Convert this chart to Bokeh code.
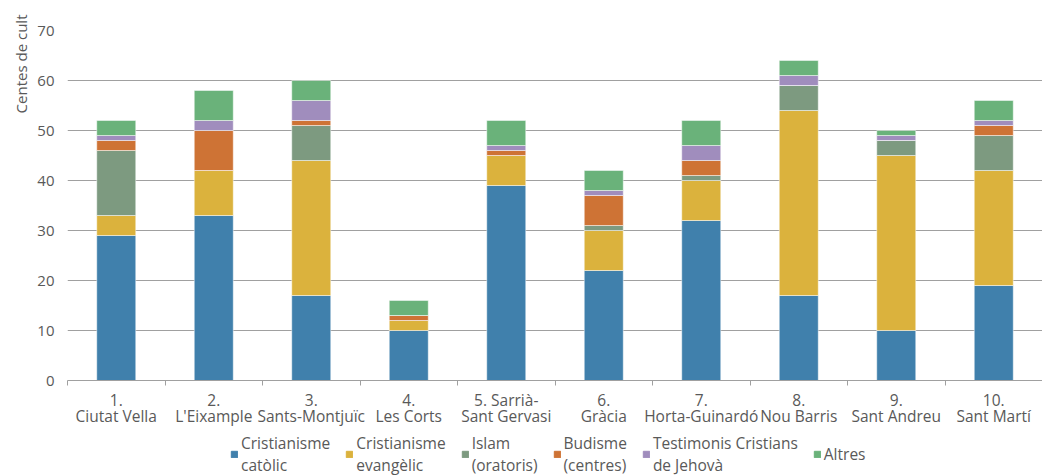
import numpy as np
from bokeh.plotting import figure
from bokeh.layouts import column
from bokeh.models import FixedTicker, Legend, LegendItem, Title, Range1d, ColumnDataSource
from bokeh.embed import file_html
from bokeh.resources import INLINE

districts = ["1.\nCiutat Vella", "2.\nL'Eixample", "3.\nSants-Montjuïc", "4.\nLes Corts",
             "5. Sarrià-\nSant Gervasi", "6.\nGràcia", "7.\nHorta-Guinardó", "8.\nNou Barris",
             "9.\nSant Andreu", "10.\nSant Martí"]
catolic = [29, 33, 17, 10, 39, 22, 32, 17, 10, 19]
evangelic = [4, 9, 27, 2, 6, 8, 8, 37, 35, 23]
islam = [13, 0, 7, 0, 0, 1, 1, 5, 3, 7]
budisme = [2, 8, 1, 1, 1, 6, 3, 0, 0, 2]
testimonis = [1, 2, 4, 0, 1, 1, 3, 2, 1, 1]
altres = [3, 6, 4, 3, 5, 4, 5, 3, 1, 4]
series_names = ["Cristianisme\ncatòlic", "Cristianisme\nevangèlic", "Islam\n(oratoris)",
                "Budisme\n(centres)", "Testimonis Cristians\nde Jehovà", "Altres"]
colors = ["#4080AC", "#DBB23D", "#7D9A80", "#CE7335", "#A08DBD", "#6AB27A"]
y_ticks = [0, 10, 20, 30, 40, 50, 60, 70]
y_title = "Centes de cult"

FONT = "Open Sans"
TXT = "#595959"
GRID = "#a0a0a0"

xs = list(range(1, len(districts) + 1))
keys = ["catolic", "evangelic", "islam", "budisme", "testimonis", "altres"]
src = ColumnDataSource(dict(x=xs, catolic=catolic, evangelic=evangelic, islam=islam,
                            budisme=budisme, testimonis=testimonis, altres=altres))

# ---- main chart ----
p = figure(width=1042, height=430, output_backend="svg", toolbar_location=None,
           x_range=Range1d(0.5, len(xs) + 0.5), y_range=Range1d(0, 70),
           min_border_left=67, min_border_top=30, min_border_right=0,
           min_border_bottom=46)
p.outline_line_color = None
p.vbar_stack(keys, x="x", width=0.4, source=src, color=colors,
             line_color="white", line_alpha=0.6, line_width=0.8)

p.xaxis.ticker = FixedTicker(ticks=xs, minor_ticks=[x - 0.5 for x in xs] + [xs[-1] + 0.5])
p.xaxis.major_label_overrides = {x: d for x, d in zip(xs, districts)}
p.xaxis.major_tick_line_color = None
p.xaxis.major_tick_out = 0
p.xaxis.major_tick_in = 0
p.xaxis.minor_tick_line_color = GRID
p.xaxis.minor_tick_out = 5
p.xaxis.minor_tick_in = 0
p.xaxis.axis_line_color = GRID
p.xaxis.major_label_text_font = FONT
p.xaxis.major_label_text_font_size = "15.5px"
p.xaxis.major_label_text_color = TXT
p.xaxis.major_label_text_line_height = 0.76
p.xaxis.major_label_standoff = 3
p.xgrid.grid_line_color = None

p.yaxis.ticker = FixedTicker(ticks=y_ticks)
p.yaxis.axis_line_color = None
p.yaxis.major_tick_line_color = None
p.yaxis.major_tick_out = 0
p.yaxis.major_tick_in = 0
p.yaxis.minor_tick_line_color = None
p.yaxis.major_label_text_font = FONT
p.yaxis.major_label_text_font_size = "15px"
p.yaxis.major_label_text_color = TXT
p.yaxis.major_label_standoff = 13
p.ygrid.grid_line_color = GRID

p.add_layout(Title(text=y_title, align="right", text_font=FONT, text_font_size="15px",
                   text_color=TXT, text_font_style="normal", offset=-16, standoff=8), "left")

# ---- legend strip ----
lg = figure(width=1042, height=45, output_backend="svg", toolbar_location=None,
            x_range=Range1d(0, 1), y_range=Range1d(0, 1), x_axis_type=None, y_axis_type=None,
            min_border_left=0, min_border_right=0, min_border_top=0, min_border_bottom=0)
lg.outline_line_color = None
lg.xgrid.grid_line_color = None
lg.ygrid.grid_line_color = None
lrs = lg.vbar_stack(keys, x="x", width=0.4, source=src, color=colors)
for r in lrs:
    r.visible = False

legend = Legend(items=[LegendItem(label=n, renderers=[r]) for n, r in zip(series_names, lrs)],
                orientation="horizontal", location=(163, -1))
legend.border_line_color = None
legend.background_fill_alpha = 0
legend.label_text_font = FONT
legend.label_text_font_size = "15.5px"
legend.label_text_color = TXT
legend.label_text_line_height = 0.71
legend.glyph_width = 8
legend.glyph_height = 8
legend.label_standoff = 3
legend.spacing = 15
legend.padding = 0
legend.margin = 0
legend.inactive_fill_alpha = 0
lg.add_layout(legend, "center")

open("out.html", "w").write(file_html(column(p, lg, spacing=0), INLINE))
